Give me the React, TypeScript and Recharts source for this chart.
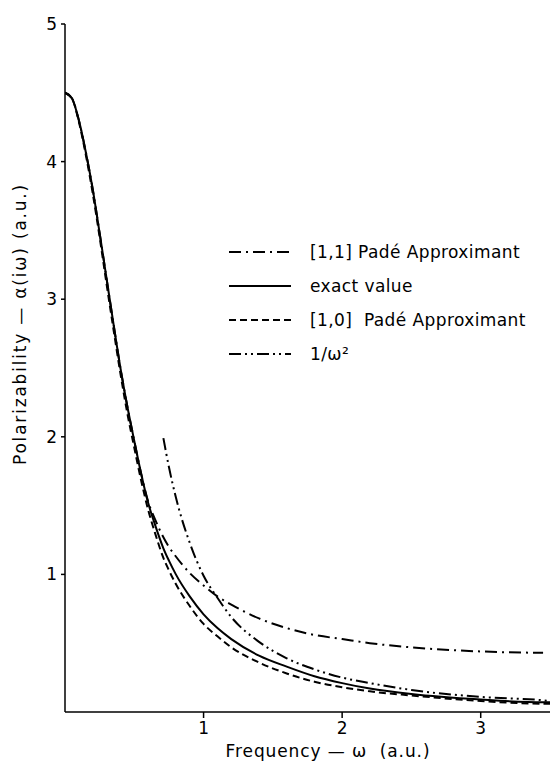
import React from 'react';
import { LineChart, Line, XAxis, YAxis } from 'recharts';

// frequency grid (a.u.)
const omega = [0, 0.05, 0.1, 0.15, 0.2, 0.25, 0.3, 0.35, 0.4, 0.45, 0.5, 0.55, 0.6, 0.65, 0.71, 0.75, 0.8, 0.9, 1.0, 1.1, 1.2, 1.4, 1.6, 1.8, 2.0, 2.2, 2.5, 3.0, 3.45, 3.5];

const exactValue = [4.5, 4.46, 4.3, 4.07, 3.8, 3.48, 3.15, 2.82, 2.5, 2.22, 1.97, 1.73, 1.52, 1.36, 1.19, 1.1, 1.0, 0.84, 0.71, 0.61, 0.53, 0.41, 0.33, 0.26, 0.21, 0.17, 0.13, 0.09, 0.07, 0.07];

const pade10 = [4.5, 4.46, 4.29, 4.05, 3.77, 3.45, 3.11, 2.78, 2.46, 2.17, 1.92, 1.68, 1.47, 1.3, 1.12, 1.03, 0.93, 0.77, 0.64, 0.55, 0.47, 0.36, 0.28, 0.22, 0.18, 0.15, 0.12, 0.08, 0.06, 0.06];

const pade11 = [4.5, 4.46, 4.3, 4.07, 3.8, 3.48, 3.15, 2.82, 2.5, 2.22, 1.97, 1.73, 1.53, 1.4, 1.27, 1.2, 1.13, 1.01, 0.92, 0.84, 0.78, 0.68, 0.61, 0.56, 0.53, 0.5, 0.47, 0.44, 0.43, null];

const invOmegaSq = [null, null, null, null, null, null, null, null, null, null, null, null, null, null, 1.99, 1.78, 1.56, 1.23, 0.99, 0.83, 0.69, 0.51, 0.39, 0.31, 0.25, 0.21, 0.16, 0.11, 0.085, 0.08];

const xTicks = [1, 2, 3];
const yTicks = [1, 2, 3, 4, 5];

const rows = omega.map((w, i) => ({
  w,
  exact: exactValue[i],
  p10: pade10[i],
  p11: pade11[i],
  inv: invOmegaSq[i],
}));

const FONT = '"DejaVu Sans", sans-serif';

const legendItems = [
  { label: '[1,1] Padé Approximant', dash: '12 5 2 5' },
  { label: 'exact value', dash: undefined },
  { label: '[1,0]  Padé Approximant', dash: '7 4' },
  { label: '1/ω²', dash: '12 4 2 4 2 4' },
];

function LegendBox() {
  return (
    <div style={{ position: 'absolute', left: 229, top: 235, fontFamily: FONT, fontSize: 17, letterSpacing: 0.4, color: '#000' }}>
      {legendItems.map((it) => (
        <div key={it.label} style={{ display: 'flex', alignItems: 'center', height: 34 }}>
          <svg width={64} height={10}>
            <line x1={0} y1={5} x2={62} y2={5} stroke="#000" strokeWidth={2} strokeDasharray={it.dash} />
          </svg>
          <span style={{ marginLeft: 17, whiteSpace: 'pre' }}>{it.label}</span>
        </div>
      ))}
    </div>
  );
}

export default function App() {
  return (
    <div style={{ position: 'absolute', left: 0, top: 0, width: 550, height: 763, background: '#fff' }}>
      <LineChart
        width={550}
        height={763}
        data={rows}
        margin={{ top: 24, right: 0, left: 25, bottom: 21 }}
      >
        <XAxis
          dataKey="w"
          type="number"
          domain={[0, 3.5]}
          ticks={xTicks}
          allowDataOverflow
          height={30}
          axisLine={{ stroke: '#000', strokeWidth: 1.5 }}
          tickLine={{ stroke: '#000', strokeWidth: 1.5 }}
          tickSize={6}
          tickMargin={4}
          tick={{ fill: '#000', fontSize: 17, fontFamily: FONT }}
        />
        <YAxis
          type="number"
          domain={[0, 5]}
          ticks={yTicks}
          allowDataOverflow
          width={40}
          axisLine={{ stroke: '#000', strokeWidth: 1.5 }}
          tickLine={{ stroke: '#000', strokeWidth: 1.5 }}
          tickSize={4}
          tickMargin={4}
          tick={{ fill: '#000', fontSize: 17, fontFamily: FONT }}
        />
        <Line type="monotone" dataKey="p11" stroke="#000" strokeWidth={2} strokeDasharray="12 5 2 5" dot={false} isAnimationActive={false} />
        <Line type="monotone" dataKey="exact" stroke="#000" strokeWidth={2} dot={false} isAnimationActive={false} />
        <Line type="monotone" dataKey="p10" stroke="#000" strokeWidth={2} strokeDasharray="7 4" dot={false} isAnimationActive={false} />
        <Line type="monotone" dataKey="inv" stroke="#000" strokeWidth={2} strokeDasharray="12 4 2 4 2 4" dot={false} isAnimationActive={false} />
      </LineChart>
      <LegendBox />
      <div
        style={{
          position: 'absolute',
          left: 20,
          top: 324,
          transform: 'translate(-50%, -50%) rotate(-90deg)',
          whiteSpace: 'pre',
          fontFamily: FONT,
          fontSize: 17,
          letterSpacing: 1.8,
          color: '#000',
        }}
      >
        Polarizability — α(iω) (a.u.)
      </div>
      <div
        style={{
          position: 'absolute',
          left: 328,
          top: 751,
          transform: 'translate(-50%, -50%)',
          whiteSpace: 'pre',
          fontFamily: FONT,
          fontSize: 17,
          letterSpacing: 0.9,
          color: '#000',
        }}
      >
        Frequency — ω  (a.u.)
      </div>
    </div>
  );
}
